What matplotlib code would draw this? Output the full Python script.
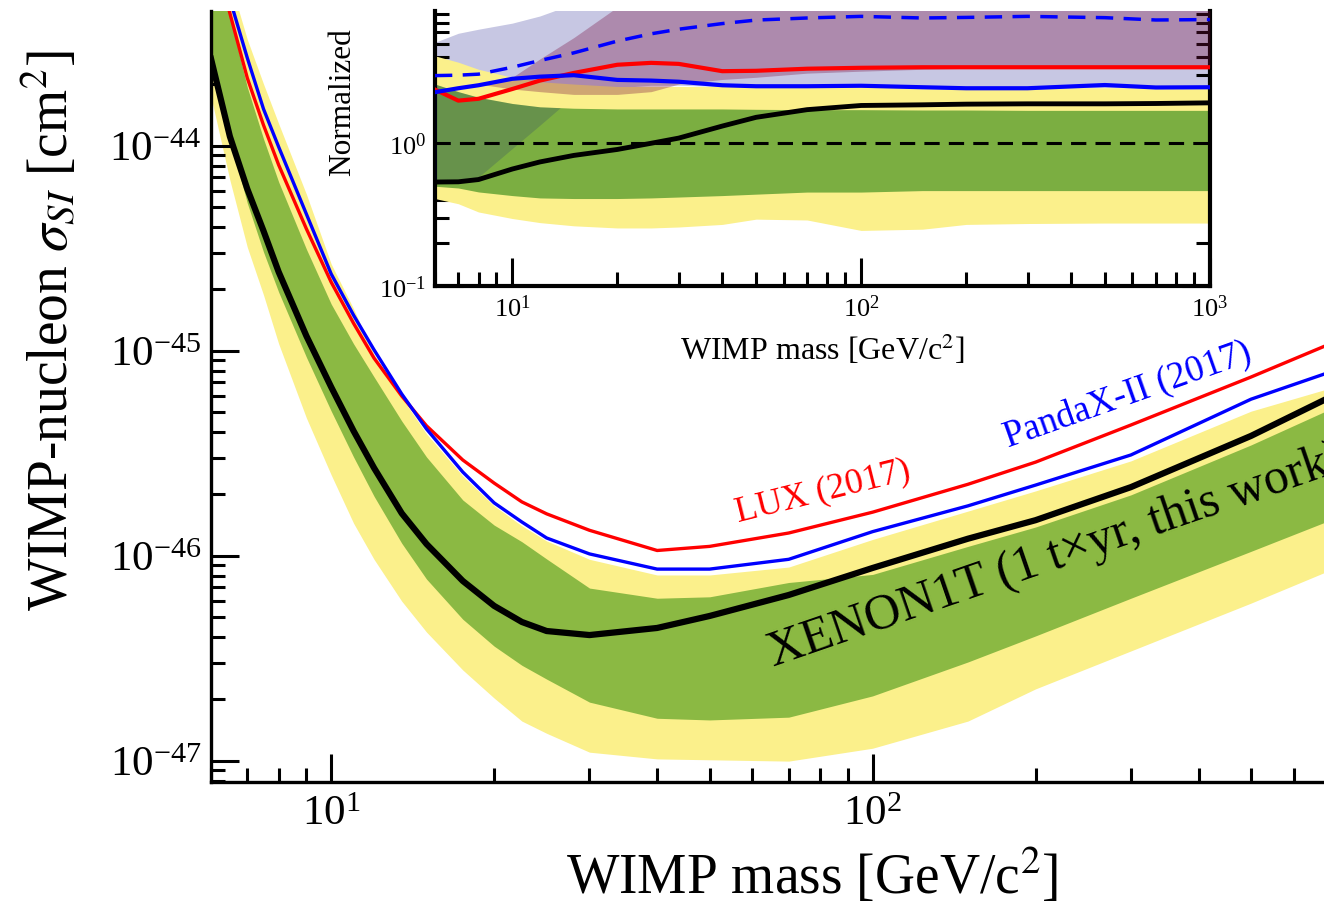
import matplotlib
matplotlib.use('Agg')
import matplotlib.pyplot as plt
from matplotlib.ticker import NullFormatter

plt.rcParams['font.family'] = 'serif'
plt.rcParams['font.serif'] = ['Liberation Serif', 'DejaVu Serif']
plt.rcParams['mathtext.fontset'] = 'stix'

# main plot: WIMP mass [GeV/c^2] and cross sections [cm^2]
mass = [6, 6.5, 7, 7.5, 8, 9, 10, 11, 12, 13.5, 15, 17.5, 20, 22.5, 25, 30, 40, 50, 70, 100, 150, 200, 300,
        500, 700, 1000]

xenon_limit = [2.65e-44, 1.11e-44, 6.15e-45, 3.84e-45, 2.42e-45, 1.18e-45, 6.65e-46, 4.06e-46, 2.68e-46,
               1.61e-46, 1.14e-46, 7.53e-47, 5.69e-47, 4.75e-47, 4.29e-47, 4.10e-47, 4.44e-47, 5.08e-47,
               6.43e-47, 8.71e-47, 1.21e-46, 1.49e-46, 2.16e-46, 3.84e-46, 5.94e-46, 9.1e-46]
lux_limit = [1.0e-43, 4.43e-44, 2.14e-44, 1.26e-44, 8.05e-45, 3.93e-45, 2.16e-45, 1.36e-45, 9.2e-46, 6.01e-46,
             4.3e-46, 2.93e-46, 2.26e-46, 1.83e-46, 1.60e-46, 1.33e-46, 1.06e-46, 1.11e-46, 1.29e-46, 1.63e-46,
             2.23e-46, 2.86e-46, 4.34e-46, 7.44e-46, 1.08e-45, 1.56e-45]
pandax_limit = [1.04e-43, 5.19e-44, 2.68e-44, 1.51e-44, 9.86e-45, 4.64e-45, 2.37e-45, 1.49e-45, 1.01e-45,
                6.15e-46, 4.15e-46, 2.56e-46, 1.81e-46, 1.46e-46, 1.22e-46, 1.02e-46, 8.6e-47, 8.6e-47, 9.6e-47,
                1.31e-46, 1.75e-46, 2.21e-46, 3.1e-46, 5.8e-46, 7.87e-46, 1.08e-45]
sens_1s_hi = [8.6e-44, 4.3e-44, 1.93e-44, 1.08e-44, 6.65e-45, 3.13e-45, 1.69e-45, 1.08e-45, 7.45e-46, 4.54e-46,
              3.03e-46, 1.87e-46, 1.41e-46, 1.17e-46, 9.64e-47, 6.95e-47, 6.2e-47, 6.3e-47, 7.4e-47, 8.1e-47,
              1.11e-46, 1.38e-46, 1.98e-46, 3.47e-46, 5.19e-46, 7.4e-46]
sens_1s_lo = [2.48e-44, 1.08e-44, 5.25e-45, 3.03e-45, 1.93e-45, 9.3e-46, 5.08e-46, 3.03e-46, 1.95e-46, 1.15e-46,
              7.69e-47, 4.9e-47, 3.62e-47, 2.92e-47, 2.50e-47, 1.93e-47, 1.61e-47, 1.58e-47, 1.63e-47, 2.07e-47,
              3.03e-47, 4.06e-47, 6.2e-47, 1.05e-46, 1.49e-46, 2.11e-46]
sens_2s_hi = [1.3e-43, 6.4e-44, 3.3e-44, 2.0e-44, 1.28e-44, 5.8e-45, 2.65e-45, 1.6e-45, 9.6e-46, 5.9e-46,
              3.93e-46, 2.45e-46, 1.75e-46, 1.40e-46, 1.18e-46, 9.6e-47, 8.05e-47, 8.05e-47, 8.8e-47, 1.2e-46,
              1.65e-46, 2.07e-46, 2.9e-46, 5.07e-46, 6.57e-46, 1.0e-45]
sens_2s_lo = [1.73e-44, 6.8e-45, 3.2e-45, 1.87e-45, 1.08e-45, 4.7e-46, 2.48e-46, 1.44e-46, 9.6e-47, 6.0e-47,
              4.24e-47, 2.77e-47, 2.02e-47, 1.56e-47, 1.36e-47, 1.10e-47, 1.02e-47, 1.01e-47, 9.95e-48, 1.15e-47,
              1.56e-47, 2.24e-47, 3.43e-47, 5.87e-47, 8.5e-47, 1.25e-46]

# inset: everything normalized to the XENON1T median sensitivity
mass_in = [6, 7, 8, 10, 12, 15, 20, 25, 30, 40, 50, 70, 100, 150, 200, 300, 500, 700, 1000]
norm_xenon = [0.535, 0.537, 0.557, 0.66, 0.74, 0.822, 0.905, 1.0, 1.087, 1.32, 1.52, 1.72, 1.84, 1.86, 1.88, 1.89,
              1.89, 1.90, 1.92]
norm_lux = [2.38, 1.99, 2.05, 2.40, 2.75, 3.11, 3.55, 3.66, 3.60, 3.20, 3.22, 3.33, 3.38, 3.41, 3.41, 3.41, 3.41,
            3.41, 3.41]
norm_pandax = [2.28, 2.43, 2.55, 2.83, 2.93, 3.0, 2.78, 2.75, 2.70, 2.55, 2.51, 2.51, 2.53, 2.47, 2.43, 2.43, 2.56,
               2.46, 2.47]
norm_pandax_med = [2.98, 3.0, 3.05, 3.41, 3.80, 4.3, 5.2, 5.85, 6.3, 6.9, 7.3, 7.55, 7.75, 7.55, 7.62, 7.75, 7.59,
                   7.31, 7.36]
norm_1s_lo = [0.50, 0.486, 0.456, 0.43, 0.414, 0.41, 0.41, 0.414, 0.42, 0.43, 0.44, 0.455, 0.455, 0.466, 0.466,
              0.466, 0.466, 0.466, 0.466]
norm_1s_hi = [2.6, 2.3, 2.1, 1.9, 1.8, 1.76, 1.74, 1.74, 1.74, 1.74, 1.73, 1.72, 1.72, 1.71, 1.71, 1.70, 1.70,
              1.70, 1.70]
norm_2s_lo = [0.41, 0.377, 0.33, 0.297, 0.278, 0.264, 0.255, 0.255, 0.259, 0.27, 0.294, 0.29, 0.245, 0.25, 0.27,
              0.274, 0.276, 0.276, 0.276]
norm_2s_hi = [4.1, 3.7, 3.3, 2.9, 2.7, 2.6, 2.5, 2.5, 2.5, 2.5, 2.5, 2.48, 2.47, 2.45, 2.45, 2.45, 2.45, 2.45, 2.45]
pandax_band_lo = [0.55, 0.56, 0.58, 0.92, 1.34, 2.1, 2.45, 2.55, 2.55, 2.5, 2.45, 2.45, 2.45, 2.42, 2.4, 2.4, 2.45,
                  2.42, 2.42]
pandax_band_hi = [5.1, 5.9, 6.3, 6.95, 7.8, 9.5, 20, 20, 20, 20, 20, 20, 20, 20, 20, 20, 20, 20, 20]
lux_band_lo = [2.6, 2.6, 2.6, 2.4, 2.3, 2.2, 2.2, 2.3, 2.6, 2.8, 2.9, 3.1, 3.2, 3.3, 3.35, 3.4, 3.4, 3.4, 3.4]
lux_band_hi = [2.6, 2.6, 2.6, 2.9, 3.9, 5.5, 9.0, 20, 20, 20, 20, 20, 20, 20, 20, 20, 20, 20, 20]

YELLOW = '#fbf08b'
GREEN = '#8bb943'
GREEN_IN = '#7bae41'
NAVY = '#000080'

fig = plt.figure(figsize=(13.24, 9.03), dpi=100)

ax = fig.add_axes([0.1594, 0.1329, 0.9086, 0.8538])
ax.set_xscale('log')
ax.set_yscale('log')
ax.fill_between(mass, sens_2s_lo, sens_2s_hi, color=YELLOW, lw=0, zorder=1)
ax.fill_between(mass, sens_1s_lo, sens_1s_hi, color=GREEN, lw=0, zorder=2)
ax.plot(mass, lux_limit, color='red', lw=2.4, zorder=3)
ax.plot(mass, pandax_limit, color='blue', lw=2.4, zorder=3)
ax.plot(mass, xenon_limit, color='black', lw=4.5, zorder=4)

ax.text(56.4, 1.48e-46, 'LUX (2017)', color='red', fontsize=26, rotation=14,
        rotation_mode='anchor', ha='left', va='baseline')
ax.text(178, 3.43e-46, 'PandaX-II (2017)', color='blue', fontsize=26.5, rotation=19.5,
        rotation_mode='anchor', ha='left', va='baseline')
ax.text(65.6, 2.9e-47, 'XENON1T (1 t\u00d7yr, this work)', color='black', fontsize=36, rotation=19,
        rotation_mode='anchor', ha='left', va='baseline')

ax.set_xlim(6, 1000)
ax.set_ylim(7.87e-48, 4.54e-44)
ax.spines['top'].set_visible(False)
ax.spines['right'].set_visible(False)
for s in ['left', 'bottom']:
    ax.spines[s].set_linewidth(2.4)
ax.tick_params(which='major', direction='in', length=20, width=2.2, labelsize=31, pad=7,
               top=False, right=False)
ax.tick_params(which='minor', direction='in', length=10, width=2.2, top=False, right=False)
ax.tick_params(axis='x', which='major', pad=9)
ax.xaxis.set_minor_formatter(NullFormatter())
ax.yaxis.set_minor_formatter(NullFormatter())
ax.set_xlabel(r'WIMP mass [GeV/c$^2$]', fontsize=40)
ax.set_ylabel(r'WIMP-nucleon $\sigma_{SI}$ [cm$^2$]', fontsize=40)
ax.xaxis.set_label_coords(0.5, -0.083)
ax.yaxis.set_label_coords(-0.109, 0.5875)

# inset
axin = fig.add_axes([0.3285, 0.6822, 0.5853, 0.3045])
axin.set_xscale('log')
axin.set_yscale('log')
axin.set_facecolor('white')
axin.fill_between(mass_in, pandax_band_lo, pandax_band_hi, color=NAVY, alpha=0.22, lw=0, zorder=1)
axin.fill_between(mass_in, norm_2s_lo, norm_2s_hi, color=YELLOW, lw=0, zorder=2)
axin.fill_between(mass_in, norm_1s_lo, norm_1s_hi, color=GREEN_IN, lw=0, zorder=2)
# pandax band seen through the green band
green_cover = [min(a, b) for a, b in zip(pandax_band_hi, norm_1s_hi)]
axin.fill_between(mass_in, pandax_band_lo, green_cover, where=[a < b for a, b in zip(pandax_band_lo, green_cover)],
                  color=NAVY, alpha=0.16, lw=0, zorder=3, interpolate=True)
axin.fill_between(mass_in, lux_band_lo, lux_band_hi, color='#781040', alpha=0.33, lw=0, zorder=3)
axin.axhline(1.0, color='black', lw=2.2, dashes=(5, 3), zorder=4)
axin.plot(mass_in, norm_pandax_med, color='blue', lw=2.5, dashes=(5, 3), zorder=5)
axin.plot(mass_in, norm_lux, color='red', lw=3, zorder=5)
axin.plot(mass_in, norm_pandax, color='blue', lw=3, zorder=5)
axin.plot(mass_in, norm_xenon, color='black', lw=3.5, zorder=6)

axin.set_xlim(6, 1000)
axin.set_ylim(0.1, 8.45)
axin.spines['top'].set_visible(False)
for s in ['left', 'bottom', 'right']:
    axin.spines[s].set_linewidth(3)
axin.tick_params(which='major', direction='in', length=20, width=2.2, labelsize=19, pad=6,
                 left=True, right=True, bottom=True, top=False)
axin.tick_params(which='minor', direction='in', length=10, width=2.2,
                 left=True, right=True, bottom=True, top=False)
axin.xaxis.set_minor_formatter(NullFormatter())
axin.yaxis.set_minor_formatter(NullFormatter())
axin.set_xlabel(r'WIMP mass [GeV/c$^2$]', fontsize=23)
axin.set_ylabel('Normalized', fontsize=22.5)
axin.xaxis.set_label_coords(0.5, -0.167)
axin.yaxis.set_label_coords(-0.1006, 0.673)

fig.savefig('out.png', dpi=100)
